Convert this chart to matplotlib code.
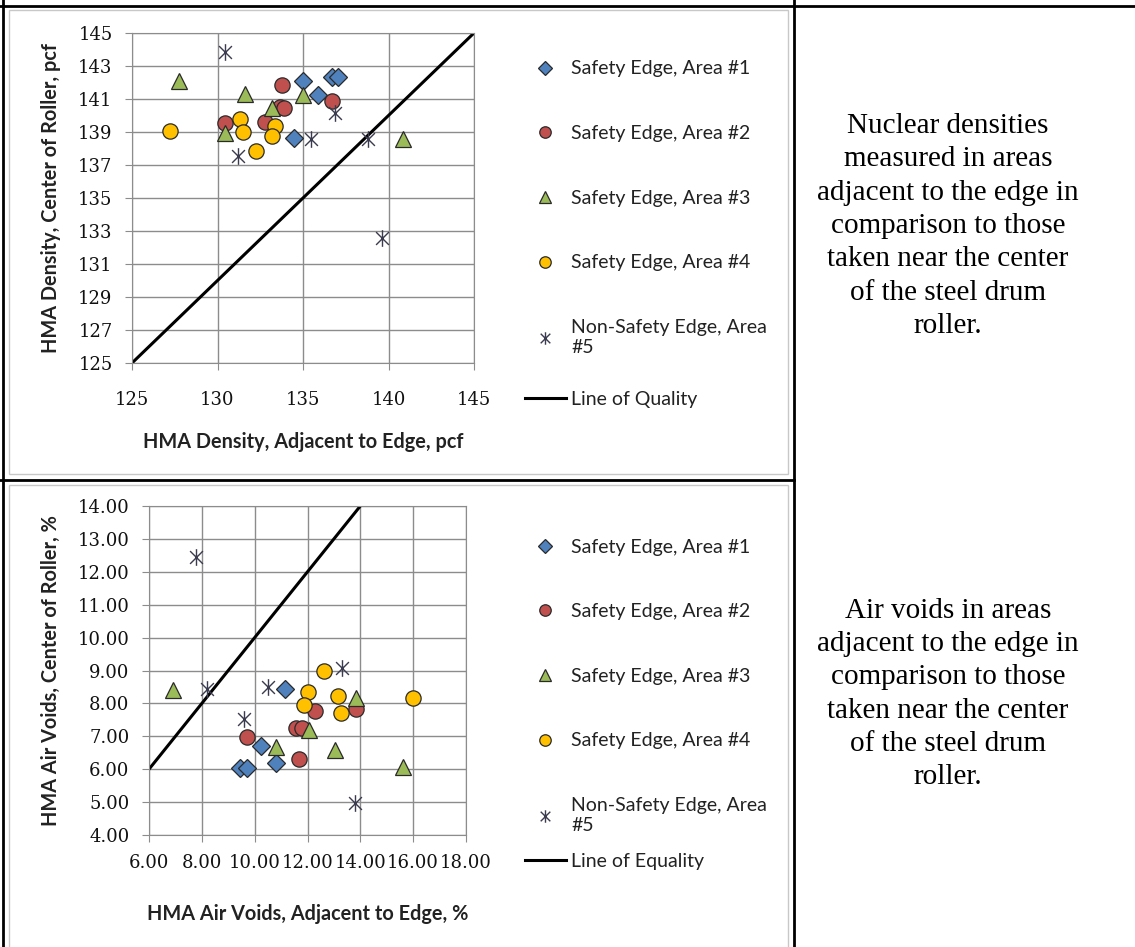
import numpy as np
import matplotlib
matplotlib.use("Agg")
import matplotlib.pyplot as plt
from matplotlib.path import Path
from matplotlib.lines import Line2D
from matplotlib.patches import Rectangle

# ---- density chart (pcf) ----
den_a1_x = [135.0, 135.85, 136.67, 137.06, 134.5]
den_a1_y = [142.1, 141.25, 142.33, 142.33, 138.64]
den_a2_x = [133.76, 136.67, 133.64, 133.88, 130.42, 132.77]
den_a2_y = [141.84, 140.89, 140.5, 140.45, 139.57, 139.6]
den_a3_x = [127.75, 131.63, 133.16, 135.0, 130.42, 140.82]
den_a3_y = [142.1, 141.3, 140.45, 141.25, 138.93, 138.6]
den_a4_x = [127.22, 131.3, 131.5, 132.24, 133.37, 133.16]
den_a4_y = [139.07, 139.78, 138.99, 137.87, 139.39, 138.77]
den_a5_x = [130.42, 131.2, 135.44, 136.86, 138.81, 139.63]
den_a5_y = [143.83, 137.55, 138.56, 140.14, 138.56, 132.6]
den_line = [125, 145]

# ---- air voids chart (%) ----
av_a1_x = [9.45, 9.70, 10.24, 10.79, 11.13]
av_a1_y = [6.03, 6.03, 6.72, 6.2, 8.43]
av_a2_x = [9.70, 11.57, 11.81, 12.29, 13.84, 11.66]
av_a2_y = [6.97, 7.24, 7.24, 7.78, 7.82, 6.32]
av_a3_x = [6.92, 10.79, 12.06, 13.05, 13.84, 15.61]
av_a3_y = [8.41, 6.68, 7.19, 6.58, 8.15, 6.08]
av_a4_x = [12.64, 12.03, 11.86, 13.16, 13.25, 15.99]
av_a4_y = [9.0, 8.36, 7.95, 8.22, 7.70, 8.15]
av_a5_x = [7.77, 8.21, 9.61, 10.5, 13.3, 13.78]
av_a5_y = [12.44, 8.43, 7.52, 8.49, 9.09, 4.96]
av_line = [6, 14]

labels = ["Safety Edge, Area #1", "Safety Edge, Area #2", "Safety Edge, Area #3",
          "Safety Edge, Area #4", "Non-Safety Edge, Area\n#5"]
colors = ["#4F81BD", "#C0504D", "#9BBB59", "#FFC000"]

top_text = ("Nuclear densities\nmeasured in areas\nadjacent to the edge in\n"
            "comparison to those\ntaken near the center\nof the steel drum\nroller.")
bot_text = ("Air voids in areas\nadjacent to the edge in\ncomparison to those\n"
            "taken near the center\nof the steel drum\nroller.")

# excel style star: X plus vertical bar
star = Path([(-1, -1), (1, 1), (-1, 1), (1, -1), (0, -1.3), (0, 1.3)],
            [Path.MOVETO, Path.LINETO, Path.MOVETO, Path.LINETO, Path.MOVETO, Path.LINETO])

W, H = 1135, 947
fig = plt.figure(figsize=(W / 100, H / 100), dpi=100)
grid_c = "#8C8C8C"
lab_font = dict(family="Lato", fontweight="bold", fontsize=14.3, color="#222222")
leg_kw = dict(frameon=False, handlelength=2.15, handletextpad=0.25,
              prop=dict(family="Lato", size=14), bbox_transform=fig.transFigure)


def px(x0, y0, x1, y1):
    return [x0 / W, 1 - y1 / H, (x1 - x0) / W, (y1 - y0) / H]


def draw(ax, xs, ys, line, xlabel, ylabel, line_label, xt, yt, fmt,
         leg_top, line_row, xpad, xlabpad):
    handles = []
    mk = [("D", 9), ("o", 11), ("^", 11), ("o", 11)]
    for i in range(4):
        h, = ax.plot(xs[i], ys[i], ls="none", marker=mk[i][0], ms=mk[i][1],
                     mfc=colors[i], mec="#2a2a2a", mew=0.9, zorder=3)
        handles.append(h)
    h, = ax.plot(xs[4], ys[4], ls="none", marker=star, ms=12, mfc="none",
                 mec="#3b3b4f", mew=1.0, zorder=3)
    handles.append(h)
    ln, = ax.plot(line, line, color="black", lw=2.2, zorder=2)

    ax.set_xlim(xt[0], xt[-1])
    ax.set_ylim(yt[0], yt[-1])
    ax.set_xticks(xt)
    ax.set_yticks(yt)
    ax.set_xticklabels([fmt.format(v) for v in xt], family="DejaVu Serif", fontsize=13)
    ax.set_yticklabels([fmt.format(v) for v in yt], family="DejaVu Serif", fontsize=13)
    ax.grid(True, color=grid_c, lw=1)
    ax.set_axisbelow(True)
    for s in ax.spines.values():
        s.set_color(grid_c)
    ax.tick_params(direction="out", length=5, color=grid_c, labelcolor="#111111")
    ax.tick_params(axis="y", pad=9)
    ax.tick_params(axis="x", pad=xpad)
    ax.set_xlabel(xlabel, labelpad=xlabpad, **lab_font)
    ax.set_ylabel(ylabel, labelpad=12, **lab_font)

    leg = ax.legend(handles, labels, loc="upper left", labelspacing=2.45, markerscale=0.75,
                    bbox_to_anchor=(507 / W, 1 - leg_top / H), **leg_kw)
    ax.add_artist(leg)
    leg2 = ax.legend([ln], [line_label], loc="center left",
                     bbox_to_anchor=(507 / W, 1 - line_row / H), **leg_kw)
    for t in leg.get_texts() + leg2.get_texts():
        t.set_color("#222222")


ax1 = fig.add_axes(px(132, 33, 474, 363))
draw(ax1, [den_a1_x, den_a2_x, den_a3_x, den_a4_x, den_a5_x],
     [den_a1_y, den_a2_y, den_a3_y, den_a4_y, den_a5_y], den_line,
     "HMA Density, Adjacent to Edge, pcf", "HMA Density, Center of Roller, pcf",
     "Line of Quality", list(range(125, 146, 5)), list(range(125, 146, 2)), "{:d}",
     43, 399, 15, 17)

ax2 = fig.add_axes(px(149, 506, 466, 835))
draw(ax2, [av_a1_x, av_a2_x, av_a3_x, av_a4_x, av_a5_x],
     [av_a1_y, av_a2_y, av_a3_y, av_a4_y, av_a5_y], av_line,
     "HMA Air Voids, Adjacent to Edge, %", "HMA Air Voids, Center of Roller, %",
     "Line of Equality", [6, 8, 10, 12, 14, 16, 18], list(range(4, 15)), "{:.2f}",
     521, 861, 9, 23)

fig.text(948 / W, 1 - 226 / H, top_text, ha="center", va="center",
         family="Liberation Serif", fontsize=21, linespacing=1.37)
fig.text(948 / W, 1 - 694 / H, bot_text, ha="center", va="center",
         family="Liberation Serif", fontsize=21, linespacing=1.37)

# chart area outlines and table frame
for y0, y1 in [(10, 474), (485, 960)]:
    fig.add_artist(Rectangle((9 / W, 1 - y1 / H), 779 / W, (y1 - y0) / H,
                             transform=fig.transFigure, fill=False, ec="#C8C8C8", lw=1))
frame = [((0, 6), (W, 6)), ((3, 0), (3, H)), ((794, 0), (794, H)), ((0, 480), (794, 480))]
for (xa, ya), (xb, yb) in frame:
    fig.add_artist(Line2D([xa / W, xb / W], [1 - ya / H, 1 - yb / H],
                          transform=fig.transFigure, color="black", lw=2))

fig.savefig("out.png", dpi=100)
